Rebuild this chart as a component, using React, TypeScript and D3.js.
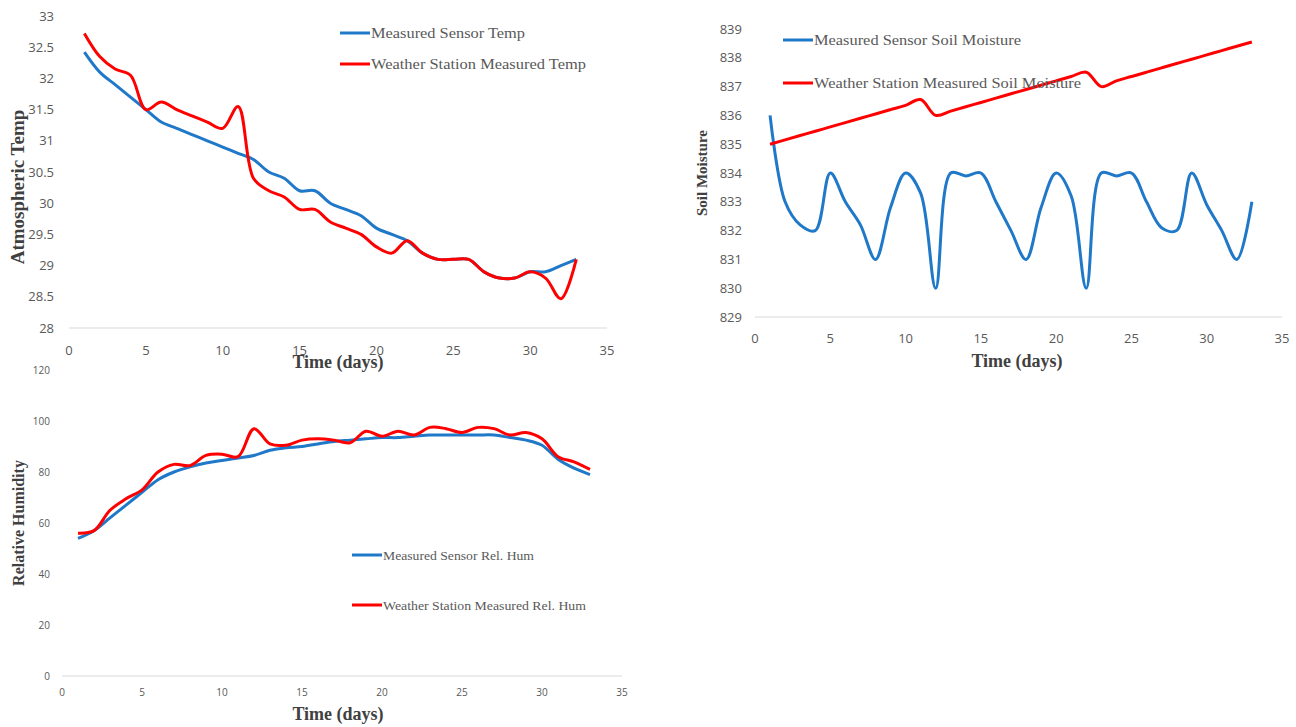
import * as d3 from "d3";
import React, { useRef, useEffect } from "react";

// days on x axis
const days = d3.range(1, 34);

// temperature panel
const sensorTemp = [32.42, 32.1, 31.9, 31.7, 31.5, 31.3, 31.2, 31.1, 31.0, 30.9, 30.8, 30.7, 30.5, 30.4, 30.2, 30.2, 30.0, 29.9, 29.8, 29.6, 29.5, 29.4, 29.2, 29.1, 29.1, 29.1, 28.9, 28.8, 28.8, 28.9, 28.9, 29.0, 29.1];
const stationTemp = [32.72, 32.35, 32.15, 32.05, 31.5, 31.62, 31.5, 31.4, 31.3, 31.2, 31.55, 30.4, 30.2, 30.1, 29.9, 29.9, 29.7, 29.6, 29.5, 29.3, 29.2, 29.4, 29.2, 29.1, 29.1, 29.1, 28.9, 28.8, 28.8, 28.9, 28.8, 28.47, 29.1];

// soil moisture panel
const sensorSoil = [836.0, 833.0, 832.2, 832.0, 834.0, 833.0, 832.2, 831.0, 832.8, 834.0, 833.3, 830.0, 834.0, 833.9, 834.0, 833.0, 832.0, 831.0, 832.8, 834.0, 833.2, 830.0, 834.0, 833.9, 834.0, 833.0, 832.1, 832.0, 834.0, 832.9, 832.0, 831.0, 833.0];
const stationSoil = [835.0, 835.15, 835.3, 835.45, 835.6, 835.75, 835.9, 836.05, 836.2, 836.35, 836.55, 836.0, 836.15, 836.3, 836.45, 836.6, 836.75, 836.9, 837.05, 837.2, 837.35, 837.5, 837.0, 837.2, 837.35, 837.5, 837.65, 837.8, 837.95, 838.1, 838.25, 838.4, 838.55];

// humidity panel
const sensorHum = [54, 57, 62, 67, 72, 77, 80, 82, 83.5, 84.5, 85.5, 86.5, 88.5, 89.5, 90, 91, 92, 92.5, 93, 93.5, 93.5, 94, 94.5, 94.5, 94.5, 94.5, 94.5, 93.5, 92.5, 90.5, 85, 81.5, 79];
const stationHum = [56, 57, 65, 69.5, 73, 80, 83, 82.5, 86.5, 87, 86, 97, 91, 90.5, 92.5, 93, 92.5, 91.5, 96, 94, 96, 94.5, 97.5, 97, 95.5, 97.5, 97, 94.5, 95.5, 93, 86, 84, 81];

const xTicks = [0, 5, 10, 15, 20, 25, 30, 35];
const tempTicks = d3.range(28, 33.01, 0.5);
const soilTicks = d3.range(829, 839.01, 1);
const humTicks = d3.range(0, 120.01, 20);

const BLUE = "#1f78c8";
const RED = "#ff0000";

const panels = [
  {
    x: [69, 607], y: [328, 16], domain: [28, 33], yTicks: tempTicks, tickSize: 13, tickRight: 54,
    xLabelY: 355, titleX: 338, titleY: 368, yTitle: "Atmospheric Temp", yTitleX: 17, yTitleY: 187, yTitleSize: 19,
    series: [sensorTemp, stationTemp],
    legend: { x: 340, y: [33, 64], size: 15, labels: ["Measured Sensor Temp", "Weather Station Measured Temp"], widths: [154, 215] },
  },
  {
    x: [755, 1282], y: [317, 29], domain: [829, 839], yTicks: soilTicks, tickSize: 13, tickRight: 742,
    xLabelY: 343, titleX: 1017, titleY: 367, yTitle: "Soil Moisture", yTitleX: 702, yTitleY: 173, yTitleSize: 15,
    series: [sensorSoil, stationSoil],
    legend: { x: 783, y: [40, 83], size: 14, labels: ["Measured Sensor Soil Moisture", "Weather Station Measured Soil Moisture"], widths: [207, 267] },
  },
  {
    x: [62, 622], y: [676, 370], domain: [0, 120], yTicks: humTicks, tickSize: 10, tickRight: 50,
    xLabelY: 696, titleX: 338, titleY: 720, yTitle: "Relative Humidity", yTitleX: 18, yTitleY: 523, yTitleSize: 16,
    series: [sensorHum, stationHum],
    legend: { x: 352, y: [555, 605], size: 13, labels: ["Measured Sensor Rel. Hum", "Weather Station Measured Rel. Hum"], widths: [151, 203] },
  },
];

const App = () => {
  const ref = useRef(null);

  useEffect(() => {
    const svg = d3.select(ref.current);
    svg.selectAll("*").remove();

    panels.forEach((p) => {
      const xScale = d3.scaleLinear().domain([0, 35]).range(p.x);
      const yScale = d3.scaleLinear().domain(p.domain).range(p.y);
      const g = svg.append("g");

      // baseline
      g.append("line")
        .attr("x1", p.x[0]).attr("x2", p.x[1])
        .attr("y1", p.y[0]).attr("y2", p.y[0])
        .attr("stroke", "#d9d9d9").attr("stroke-width", 1.2);

      // y tick labels
      g.selectAll(".yt").data(p.yTicks).enter().append("text")
        .attr("x", p.tickRight)
        .attr("y", (d) => yScale(d))
        .attr("dy", "0.35em")
        .attr("text-anchor", "end")
        .attr("font-family", "'Open Sans', sans-serif")
        .attr("font-size", p.tickSize)
        .attr("fill", "#595959")
        .text((d) => d3.format("~g")(+d.toFixed(1)));

      // x tick labels
      g.selectAll(".xt").data(xTicks).enter().append("text")
        .attr("x", (d) => xScale(d))
        .attr("y", p.xLabelY)
        .attr("text-anchor", "middle")
        .attr("font-family", "'Open Sans', sans-serif")
        .attr("font-size", p.tickSize)
        .attr("fill", "#595959")
        .text((d) => d);

      // lines
      const line = d3.line()
        .x((d, i) => xScale(days[i]))
        .y((d) => yScale(d))
        .curve(d3.curveCatmullRom.alpha(0.5));
      p.series.forEach((s, i) => {
        g.append("path")
          .attr("d", line(s))
          .attr("fill", "none")
          .attr("stroke", i === 0 ? BLUE : RED)
          .attr("stroke-width", 3)
          .attr("stroke-linejoin", "round");
      });

      // axis titles
      g.append("text")
        .attr("x", p.titleX).attr("y", p.titleY)
        .attr("text-anchor", "middle")
        .attr("font-family", "'Liberation Serif', serif")
        .attr("font-weight", "bold")
        .attr("font-size", 18)
        .attr("fill", "#404040")
        .text("Time (days)");

      g.append("text")
        .attr("transform", `translate(${p.yTitleX},${p.yTitleY}) rotate(-90)`)
        .attr("text-anchor", "middle")
        .attr("dy", "0.35em")
        .attr("font-family", "'Liberation Serif', serif")
        .attr("font-weight", "bold")
        .attr("font-size", p.yTitleSize)
        .attr("fill", "#404040")
        .text(p.yTitle);

      // legend
      p.legend.labels.forEach((lab, i) => {
        const ly = p.legend.y[i];
        g.append("line")
          .attr("x1", p.legend.x).attr("x2", p.legend.x + 30)
          .attr("y1", ly).attr("y2", ly)
          .attr("stroke", i === 0 ? BLUE : RED)
          .attr("stroke-width", 3);
        g.append("text")
          .attr("x", p.legend.x + 31).attr("y", ly)
          .attr("dy", "0.35em")
          .attr("font-family", "'Liberation Serif', serif")
          .attr("font-size", p.legend.size)
          .attr("fill", "#595959")
          .attr("textLength", p.legend.widths[i])
          .attr("lengthAdjust", "spacingAndGlyphs")
          .text(lab);
      });
    });
  }, []);

  return (
    <svg
      ref={ref}
      width={1296}
      height={727}
      style={{ position: "absolute", left: 0, top: 0, background: "#fff" }}
    />
  );
};

export default App;
